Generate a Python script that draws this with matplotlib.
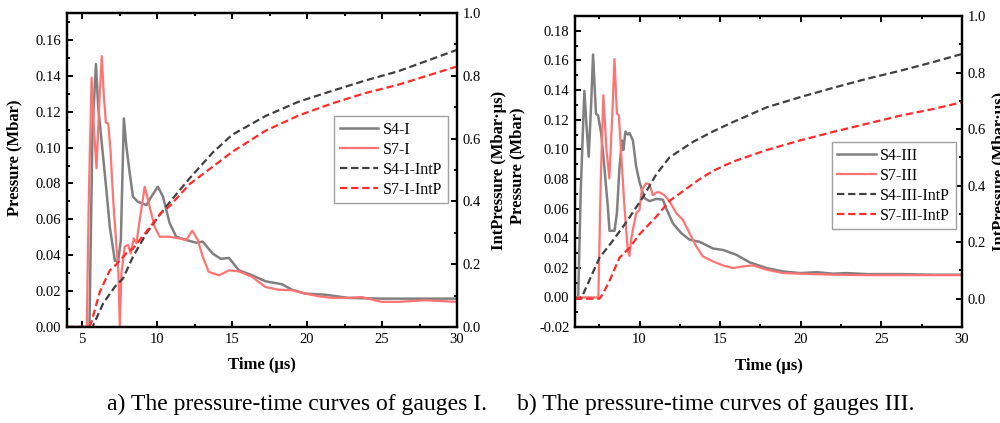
import matplotlib
matplotlib.use('Agg')
import matplotlib.pyplot as plt
from matplotlib.ticker import MultipleLocator, FormatStrFormatter

plt.rcParams['font.family'] = ['Liberation Serif', 'DejaVu Serif']
plt.rcParams['mathtext.fontset'] = 'stix'

# ---- a) gauges I ----
t_s4_i = [4, 5.5, 5.55, 5.7, 5.93, 6.08, 6.3, 6.63, 6.85, 7.19, 7.41, 7.59, 7.79, 7.96,
          8.18, 8.4, 8.73, 9.29, 9.62, 10.06, 10.4, 10.84, 11.28, 11.95, 12.6, 13.05,
          13.7, 14.25, 14.8, 15.46, 16.35, 17.23, 18.34, 19.0, 19.89, 21.2, 22.77, 24.98, 30]
p_s4_i = [0, 0, 0.03, 0.11, 0.1466, 0.1228, 0.104, 0.076, 0.056, 0.037, 0.0364, 0.0485,
          0.1163, 0.1005, 0.0858, 0.0726, 0.0698, 0.068, 0.0726, 0.0782, 0.0726, 0.058,
          0.0503, 0.0485, 0.047, 0.0476, 0.041, 0.038, 0.0385, 0.0316, 0.0288, 0.0255,
          0.0238, 0.0208, 0.0186, 0.018, 0.0162, 0.0158, 0.0158]

t_s7_i = [4, 5.32, 5.45, 5.64, 5.8, 5.97, 6.15, 6.32, 6.45, 6.59, 6.75, 6.9, 7.08, 7.3,
          7.43, 7.52, 7.63, 7.85, 8.07, 8.25, 8.45, 8.63, 8.85, 9.18, 9.4, 9.84, 10.18,
          10.84, 11.5, 11.95, 12.35, 12.72, 13.05, 13.45, 14.14, 14.8, 15.46, 16.35,
          17.23, 18.1, 19.0, 19.89, 20.8, 21.66, 22.77, 23.65, 24.98, 26.1, 27.85, 30]
p_s7_i = [0, 0, 0.07, 0.139, 0.11, 0.0885, 0.125, 0.151, 0.13, 0.114, 0.1135, 0.0987,
          0.0708, 0.0448, 0.030, 0.0, 0.030, 0.0448, 0.0457, 0.041, 0.0494, 0.0467,
          0.0597, 0.0782, 0.0708, 0.0559, 0.0503, 0.0503, 0.0494, 0.0485, 0.0537,
          0.0485, 0.0392, 0.0307, 0.0288, 0.0316, 0.031, 0.0279, 0.0223, 0.0208,
          0.0205, 0.0186, 0.0171, 0.0162, 0.0162, 0.0167, 0.014, 0.014, 0.0149, 0.014]

t_s4_i_int = [4, 5.7, 6.41, 7.19, 7.74, 8.4, 9.29, 10.25, 11.06, 12.2, 13.7, 15.0, 17.23,
              19.45, 21.66, 23.87, 26.1, 30]
i_s4_i = [0, 0, 0.075, 0.128, 0.155, 0.224, 0.298, 0.362, 0.41, 0.475, 0.555, 0.612,
          0.672, 0.718, 0.752, 0.785, 0.815, 0.883]

t_s7_i_int = [4, 5.5, 5.64, 6.19, 6.85, 7.3, 7.96, 8.4, 8.85, 9.73, 10.25, 10.84, 12.17,
              13.7, 15.02, 17.23, 19.45, 21.66, 23.87, 26.1, 30]
i_s7_i = [0, 0, 0.017, 0.112, 0.18, 0.2, 0.235, 0.25, 0.277, 0.33, 0.362, 0.385, 0.455,
          0.51, 0.558, 0.625, 0.674, 0.712, 0.745, 0.772, 0.83]

# ---- b) gauges III ----
t_s4_iii = [6, 6.2, 6.35, 6.58, 6.72, 6.85, 7.0, 7.12, 7.3, 7.43, 7.62, 7.82, 8.03, 8.14,
            8.45, 8.6, 8.76, 8.92, 9.0, 9.13, 9.27, 9.38, 9.59, 9.8, 10.0, 10.31, 10.62,
            11.04, 11.45, 11.66, 12.07, 12.59, 13.1, 13.73, 14.56, 15.18, 16.0, 16.84,
            17.88, 18.9, 19.95, 21.0, 22.0, 22.85, 24.1, 26.2, 28.2, 30]
p_s4_iii = [0, 0, 0.07, 0.1395, 0.115, 0.095, 0.13, 0.164, 0.124, 0.123, 0.111, 0.088,
            0.062, 0.045, 0.045, 0.057, 0.088, 0.106, 0.0996, 0.112, 0.110, 0.111, 0.106,
            0.088, 0.078, 0.067, 0.065, 0.0665, 0.066, 0.060, 0.050, 0.0434, 0.039,
            0.0375, 0.033, 0.032, 0.0288, 0.0236, 0.0198, 0.0175, 0.0164, 0.017, 0.016,
            0.0164, 0.0157, 0.0157, 0.0153, 0.0153]

t_s7_iii = [6, 7.45, 7.6, 7.76, 7.95, 8.13, 8.3, 8.45, 8.6, 8.72, 8.85, 9.07, 9.27, 9.38,
            9.48, 9.59, 9.8, 10.0, 10.14, 10.41, 10.62, 10.83, 11.04, 11.24, 11.55, 11.87,
            12.28, 12.69, 13.1, 13.52, 13.94, 14.56, 15.18, 15.8, 16.42, 17.05, 17.88,
            18.9, 19.95, 22.0, 24.1, 30]
p_s7_iii = [0, 0, 0.08, 0.1366, 0.1, 0.0804, 0.12, 0.161, 0.124, 0.123, 0.0995, 0.061,
            0.032, 0.028, 0.039, 0.0456, 0.057, 0.059, 0.0726, 0.077, 0.0765, 0.069,
            0.0708, 0.071, 0.069, 0.0647, 0.057, 0.0524, 0.0434, 0.0344, 0.0276, 0.0243,
            0.0216, 0.0198, 0.0209, 0.0216, 0.0187, 0.0164, 0.016, 0.0153, 0.015, 0.015]

t_s4_iii_int = [6, 6.38, 6.89, 7.52, 8.34, 9.17, 10.2, 11.04, 11.86, 13.32, 14.56, 15.8,
                17.88, 19.95, 22.0, 24.1, 26.2, 28.2, 30]
i_s4_iii = [0, 0, 0.065, 0.145, 0.205, 0.27, 0.358, 0.44, 0.5, 0.555, 0.592, 0.625,
            0.677, 0.713, 0.746, 0.778, 0.807, 0.837, 0.866]

t_s7_iii_int = [6, 7.51, 7.72, 8.14, 8.76, 9.38, 10.0, 11.04, 11.86, 13.73, 14.56, 15.8,
                17.88, 19.95, 22.0, 24.1, 26.2, 28.2, 30]
i_s7_iii = [0, 0, 0.016, 0.063, 0.145, 0.18, 0.228, 0.29, 0.346, 0.423, 0.452, 0.485,
            0.526, 0.56, 0.59, 0.619, 0.648, 0.671, 0.695]

c_s4 = '#808080'
c_s7 = '#ff7373'
c_s4_int = '#404040'
c_s7_int = '#ff2a2a'
dash = (0, (3.3, 1.7))


def style_axes(ax, ax2):
    for a in (ax, ax2):
        for s in a.spines.values():
            s.set_linewidth(1.6)
    ax.tick_params(which='both', direction='in', top=True, right=False, width=1.4,
                   labelsize=10.5, pad=4)
    ax.tick_params(which='major', length=4.5)
    ax.tick_params(which='minor', length=2.5)
    ax2.tick_params(which='both', direction='in', width=1.4, labelsize=10.5, pad=4)
    ax2.tick_params(which='major', length=4.5)
    ax2.tick_params(which='minor', length=2.5)
    ax.xaxis.set_major_locator(MultipleLocator(5))
    ax.xaxis.set_minor_locator(MultipleLocator(2.5))
    ax.yaxis.set_major_locator(MultipleLocator(0.02))
    ax.yaxis.set_minor_locator(MultipleLocator(0.01))
    ax.yaxis.set_major_formatter(FormatStrFormatter('%.2f'))
    ax2.yaxis.set_major_locator(MultipleLocator(0.2))
    ax2.yaxis.set_minor_locator(MultipleLocator(0.1))
    ax2.yaxis.set_major_formatter(FormatStrFormatter('%.1f'))


fig = plt.figure(figsize=(10, 4.23), dpi=100)

# panel a
ax1 = fig.add_axes([0.067, 0.227, 0.390, 0.742])
ax1b = ax1.twinx()
l1, = ax1.plot(t_s4_i, p_s4_i, color=c_s4, lw=1.8, label='S4-I')
l2, = ax1.plot(t_s7_i, p_s7_i, color=c_s7, lw=1.6, label='S7-I')
l3, = ax1b.plot(t_s4_i_int, i_s4_i, color=c_s4_int, lw=1.6, ls=dash, label='S4-I-IntP')
l4, = ax1b.plot(t_s7_i_int, i_s7_i, color=c_s7_int, lw=1.6, ls=dash, label='S7-I-IntP')
ax1.set_xlim(4, 30)
ax1.set_ylim(0, 0.175)
ax1b.set_ylim(0, 1.0)
style_axes(ax1, ax1b)
ax1.set_xlabel('Time (μs)', fontsize=12, fontweight='bold')
ax1.set_ylabel('Pressure (Mbar)', fontsize=12, fontweight='bold')
ax1b.set_ylabel('IntPressure (Mbar·μs)', fontsize=12, fontweight='bold')
ax1.xaxis.set_label_coords(0.5, -0.095)
ax1.yaxis.set_label_coords(-0.115, 0.54)
ax1b.yaxis.set_label_coords(1.088, 0.5)
leg1 = ax1b.legend(handles=[l1, l2, l3, l4], loc='upper right',
                   bbox_to_anchor=(0.977, 0.672), borderaxespad=0, fontsize=11.5,
                   fancybox=False, framealpha=1, edgecolor='#a0a0a0', handlelength=2.4,
                   labelspacing=0.25, borderpad=0.35, handletextpad=0.3)
leg1.get_frame().set_linewidth(1.0)

# panel b
ax2 = fig.add_axes([0.575, 0.227, 0.387, 0.735])
ax2b = ax2.twinx()
m1, = ax2.plot(t_s4_iii, p_s4_iii, color=c_s4, lw=1.8, label='S4-III')
m2, = ax2.plot(t_s7_iii, p_s7_iii, color=c_s7, lw=1.6, label='S7-III')
m3, = ax2b.plot(t_s4_iii_int, i_s4_iii, color=c_s4_int, lw=1.6, ls=dash, label='S4-III-IntP')
m4, = ax2b.plot(t_s7_iii_int, i_s7_iii, color=c_s7_int, lw=1.6, ls=dash, label='S7-III-IntP')
ax2.set_xlim(6, 30)
ax2.set_ylim(-0.02, 0.19)
ax2b.set_ylim(-0.1, 1.0)
style_axes(ax2, ax2b)
ax2.set_xlabel('Time (μs)', fontsize=12, fontweight='bold')
ax2.set_ylabel('Pressure (Mbar)', fontsize=12, fontweight='bold')
ax2b.set_ylabel('IntPressure (Mbar·μs)', fontsize=12, fontweight='bold')
ax2.xaxis.set_label_coords(0.5, -0.1)
ax2.yaxis.set_label_coords(-0.127, 0.52)
ax2b.yaxis.set_label_coords(1.078, 0.5)
leg2 = ax2b.legend(handles=[m1, m2, m3, m4], loc='upper right',
                   bbox_to_anchor=(0.984, 0.595), borderaxespad=0, fontsize=11.5,
                   fancybox=False, framealpha=1, edgecolor='#a0a0a0', handlelength=2.4,
                   labelspacing=0.25, borderpad=0.35, handletextpad=0.3)
leg2.get_frame().set_linewidth(1.0)

fig.text(0.297, 0.043, 'a) The pressure-time curves of gauges I.', ha='center',
         va='center', fontsize=17)
fig.text(0.716, 0.043, 'b) The pressure-time curves of gauges III.', ha='center',
         va='center', fontsize=17)

fig.savefig('out.png', dpi=100)
